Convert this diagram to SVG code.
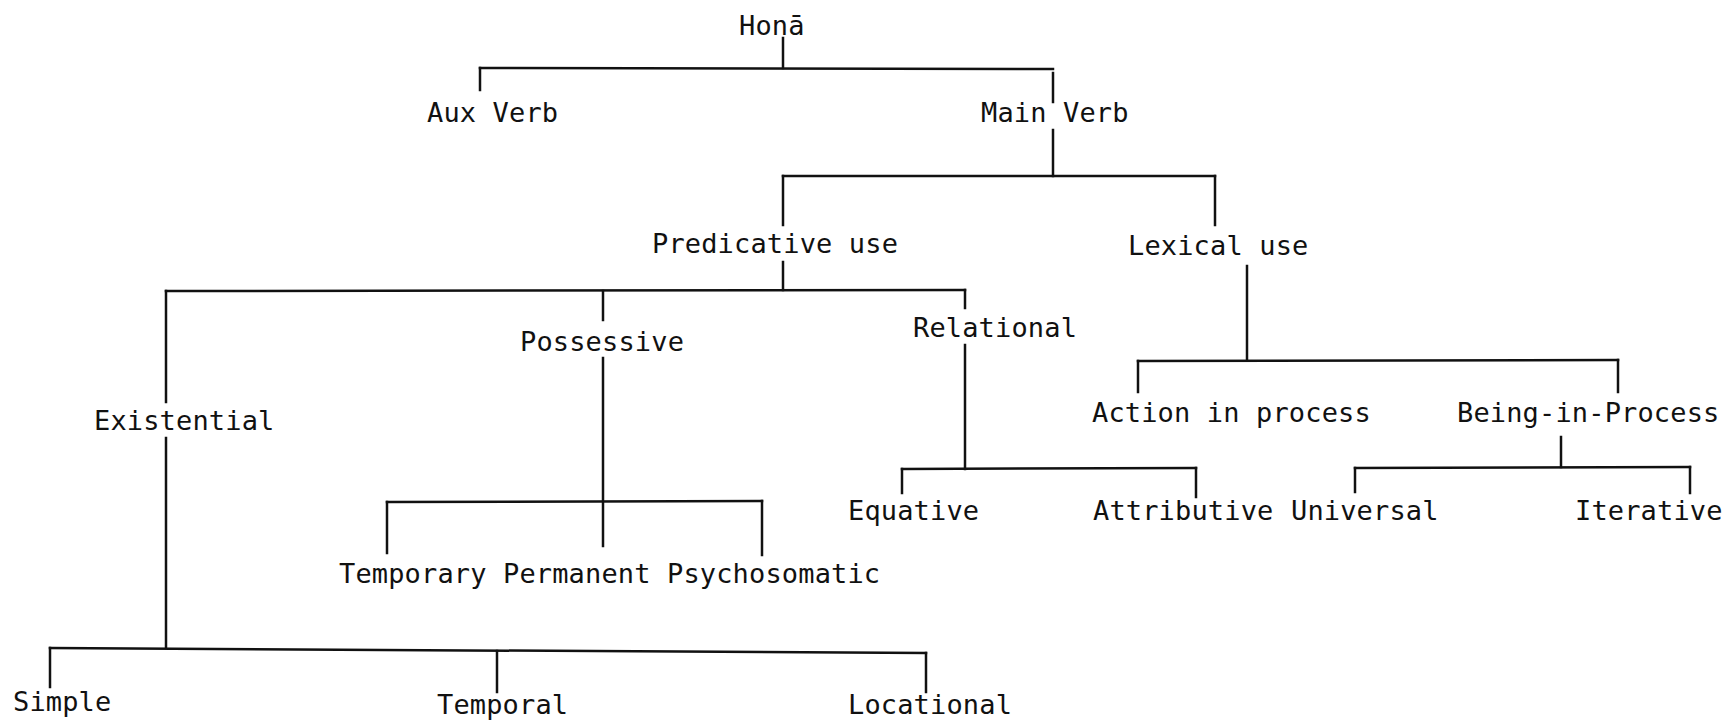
<svg xmlns="http://www.w3.org/2000/svg" width="1724" height="720" viewBox="0 0 1724 720">
<style>
text{font-family:"DejaVu Sans Mono","Liberation Mono",monospace;font-size:27px;letter-spacing:0.15px;fill:#111}
.c line{stroke:#111;stroke-width:2.5;stroke-linecap:square}
</style>
<rect width="1724" height="720" fill="#fff"/>
<g class="c" id="connectors">
<line x1="783" y1="38" x2="783" y2="68"/>
<line x1="480" y1="68" x2="1053" y2="69"/>
<line x1="480" y1="68" x2="480" y2="90"/>
<line x1="1053" y1="73" x2="1053" y2="102"/>
<line x1="1053" y1="130" x2="1053" y2="176"/>
<line x1="783" y1="176" x2="1215" y2="176"/>
<line x1="783" y1="176" x2="783" y2="225"/>
<line x1="1215" y1="176" x2="1215" y2="225"/>
<line x1="783" y1="262" x2="783" y2="290"/>
<line x1="166" y1="291" x2="965" y2="290"/>
<line x1="166" y1="291" x2="166" y2="402"/>
<line x1="166" y1="438" x2="166" y2="648"/>
<line x1="603" y1="291" x2="603" y2="320"/>
<line x1="603" y1="358" x2="603" y2="546"/>
<line x1="387" y1="502" x2="762" y2="501"/>
<line x1="387" y1="502" x2="387" y2="553"/>
<line x1="762" y1="501" x2="762" y2="555"/>
<line x1="965" y1="290" x2="965" y2="308"/>
<line x1="965" y1="345" x2="965" y2="469"/>
<line x1="902" y1="469" x2="1196" y2="468"/>
<line x1="902" y1="469" x2="902" y2="493"/>
<line x1="1196" y1="468" x2="1196" y2="497"/>
<line x1="1247" y1="266" x2="1247" y2="360"/>
<line x1="1138" y1="361" x2="1618" y2="360"/>
<line x1="1138" y1="361" x2="1138" y2="392"/>
<line x1="1618" y1="360" x2="1618" y2="392"/>
<line x1="1561" y1="437" x2="1561" y2="467"/>
<line x1="1355" y1="468" x2="1690" y2="467"/>
<line x1="1355" y1="468" x2="1355" y2="492"/>
<line x1="1690" y1="467" x2="1690" y2="493"/>
<line x1="50" y1="648" x2="926" y2="653"/>
<line x1="50" y1="648" x2="50" y2="687"/>
<line x1="497" y1="651" x2="497" y2="692"/>
<line x1="926" y1="653" x2="926" y2="692"/>
</g>
<g id="n-hona"><text x="739" y="35">Honā</text></g>
<g id="n-aux"><text x="427" y="122">Aux Verb</text></g>
<g id="n-main"><text x="981" y="122">Main Verb</text></g>
<g id="n-pred"><text x="652" y="253">Predicative use</text></g>
<g id="n-lex"><text x="1128" y="255">Lexical use</text></g>
<g id="n-exist"><text x="94" y="430">Existential</text></g>
<g id="n-poss"><text x="520" y="351">Possessive</text></g>
<g id="n-rel"><text x="913" y="337">Relational</text></g>
<g id="n-action"><text x="1092" y="422">Action in process</text></g>
<g id="n-being"><text x="1457" y="422">Being-in-Process</text></g>
<g id="n-equ"><text x="848" y="520">Equative</text></g>
<g id="n-attr"><text x="1093" y="520">Attributive</text></g>
<g id="n-univ"><text x="1291" y="520">Universal</text></g>
<g id="n-iter"><text x="1575" y="520">Iterative</text></g>
<g id="n-temporary"><text x="339" y="583">Temporary</text></g>
<g id="n-permanent"><text x="503" y="583">Permanent</text></g>
<g id="n-psycho"><text x="667" y="583">Psychosomatic</text></g>
<g id="n-simple"><text x="13" y="711">Simple</text></g>
<g id="n-temporal"><text x="437" y="714">Temporal</text></g>
<g id="n-loc"><text x="848" y="714">Locational</text></g>
</svg>
